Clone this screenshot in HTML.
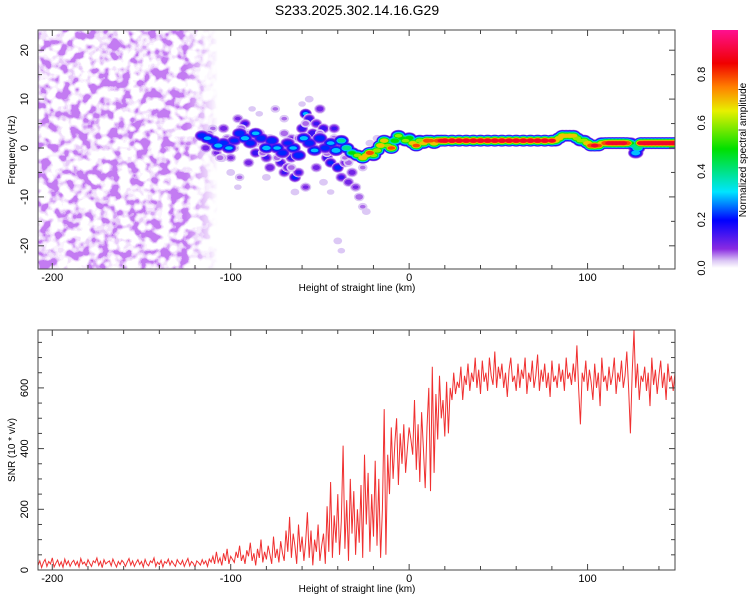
<!DOCTYPE html>
<html><head><meta charset="utf-8">
<style>
body{margin:0;background:#fff;}
svg{display:block;font-family:"Liberation Sans",sans-serif;}
</style></head>
<body>
<svg id="chart" width="750" height="600" viewBox="0 0 750 600">
<defs>
  <filter id="noise" x="0" y="0" width="100%" height="100%">
    <feTurbulence type="fractalNoise" baseFrequency="0.1" numOctaves="2" seed="11" result="t"/>
    <feColorMatrix in="t" type="matrix" values="0 0 0 0 0.5  0 0 0 0 0.15  0 0 0 0 0.88  3.4 0 0 0 -1.25" result="c"/>
    <feComponentTransfer in="c"><feFuncA type="discrete" tableValues="0 0.08 0.2 0.35 0.6 0.9"/></feComponentTransfer>
  </filter>
  <linearGradient id="fadeGrad" x1="0" x2="1" y1="0" y2="0">
    <stop offset="0" stop-color="#fff"/><stop offset="0.82" stop-color="#fff"/><stop offset="1" stop-color="#000"/>
  </linearGradient>
  <mask id="fadeMask"><rect x="38" y="30" width="180" height="240" fill="url(#fadeGrad)"/></mask>
  <linearGradient id="cbar" x1="0" y1="1" x2="0" y2="0">
    <stop offset="0" stop-color="#ffffff"/>
    <stop offset="0.03" stop-color="#dcc8f5"/>
    <stop offset="0.08" stop-color="#8a2be2"/>
    <stop offset="0.2" stop-color="#0000ff"/>
    <stop offset="0.32" stop-color="#00e5ff"/>
    <stop offset="0.5" stop-color="#00e000"/>
    <stop offset="0.66" stop-color="#e8f000"/>
    <stop offset="0.76" stop-color="#ff8000"/>
    <stop offset="0.86" stop-color="#f00000"/>
    <stop offset="1" stop-color="#ff1090"/>
  </linearGradient>
  <clipPath id="topClip"><rect x="38" y="30" width="637" height="239"/></clipPath>
  <clipPath id="botClip"><rect x="38" y="330" width="637" height="240"/></clipPath>
</defs>
<text x="357" y="15" font-size="14" text-anchor="middle">S233.2025.302.14.16.G29</text>
<g id="topG" clip-path="url(#topClip)"></g>
<g id="botG" clip-path="url(#botClip)"></g>
<g id="axesG"></g>
</svg>
<script>
// ---- data ----
const ridgeH = [-116,-113,-110,-107,-104,-101,-98,-95,-92,-89,-86,-83,-80,-77,-74,-71,-68,-65,-62,-59,-56,-53,-50,-47,-44,-41,-38,-35,-32,-29,-26,-24,-22,-20,-18,-16,-14,-12,-10,-8,-6,-4,-2,0,2,4,6,8,10,12,14,16,18,20,24,28,32,36,40,44,48,52,56,60,64,68,72,76,80,82,84,86,88,90,92,94,96,98,100,102,104,106,108,110,112,114,116,118,120,122,124,126,127,128,130,132,134,136,138,140,142,144,146,148];
const ridgeF = [2.5,2,1.5,0.5,1,0,1.5,3,2,1,3,2,0,1.5,0,-1,1,0,-1.5,2,1,-0.5,2,0,1,-0.5,1.5,0,-1,-1.5,-2,-1.5,-1,-1.5,-0.5,0.5,1.5,0.5,0,1.5,2.5,2,1.5,2,1,0.5,1.5,1,1.5,1.5,1,1.5,1.5,1.5,1.5,1.5,1.5,1.5,1.5,1.5,1.5,1.5,1.5,1.5,1.5,1.5,1.5,1.5,1.5,1.5,2,2.5,2.5,2.5,2.5,2,1.5,1.5,1,0.5,0.5,0.5,1,1,1,1,1,1,1,1,1,0.5,-1,0,1,1,1,1,1,1,1,1,1,1,1];
const ridgeA = [0.25,0.3,0.28,0.32,0.25,0.3,0.22,0.28,0.32,0.25,0.3,0.26,0.33,0.28,0.3,0.25,0.22,0.3,0.28,0.32,0.26,0.3,0.28,0.25,0.3,0.35,0.4,0.45,0.5,0.6,0.75,0.7,0.85,0.6,0.65,0.75,0.7,0.6,0.8,0.55,0.6,0.5,0.6,0.55,0.7,0.8,0.65,0.7,0.85,0.8,0.75,0.85,0.9,0.95,0.95,0.95,0.95,0.95,0.95,0.95,0.95,0.95,0.95,0.95,0.95,0.95,0.95,0.95,0.9,0.7,0.72,0.75,0.7,0.72,0.7,0.65,0.6,0.65,0.75,0.85,0.9,0.8,0.7,0.85,0.9,0.92,0.92,0.9,0.92,0.85,0.5,0.4,0.35,0.45,0.9,0.95,0.95,0.95,0.95,0.95,0.95,0.95,0.95,0.95,0.95];
const blobH = [-114,-108,-104,-100,-96,-92,-90,-86,-84,-80,-78,-76,-72,-70,-68,-66,-64,-62,-60,-58,-56,-54,-52,-50,-48,-46,-44,-42,-40,-38,-36,-34,-32,-30,-28,-26,-24,-40,-38,-70,-75,-66,-58,-52,-95,-88,-105,-110,
 -112,-106,-102,-98,-94,-90,-86,-82,-78,-74,-70,-66,-62,-58,-54,-50,-46,-42,-38,-34,-30,-26,-22,-18,-14,-10,-100,-96,-80,-84,-88,-64,-60,-48,-44,-56,-36];
const blobF = [0,-1,4,-2,6,5,-3,-1,3,-2,-4,1,-3,-5,-4,-2,-6,-5,4,7,6,3,5,8,4,-2,-3,4,-4,-6,-3,-7,-5,-8,-10,-12,-13,-19,-21,6,8,2,-8,-4,-6,2,-2,4,
 3,-2,2,0,4,3,1,-1,2,-2,3,-4,2,5,1,3,-1,2,0,-3,-2,-4,1,2,1,2,-5,-8,-6,7,8,-9,9,-7,-9,10,-2];
const blobA = [0.12,0.1,0.12,0.1,0.1,0.15,0.12,0.18,0.12,0.15,0.14,0.12,0.16,0.15,0.14,0.18,0.22,0.15,0.2,0.3,0.18,0.2,0.15,0.12,0.18,0.2,0.22,0.15,0.25,0.15,0.12,0.12,0.12,0.1,0.08,0.06,0.05,0.05,0.04,0.06,0.06,0.1,0.1,0.12,0.06,0.08,0.08,0.06,
 0.07,0.07,0.08,0.07,0.08,0.07,0.08,0.07,0.08,0.07,0.08,0.07,0.08,0.07,0.08,0.07,0.08,0.07,0.08,0.07,0.06,0.06,0.05,0.05,0.05,0.04,0.05,0.04,0.05,0.04,0.04,0.05,0.04,0.05,0.04,0.05,0.06];
const snr = [
 15,30,8,25,35,12,28,20,40,10, 22,33,14,27,9,36,18,30,12,25, 32,16,28,10,38,20,26,14,34,22,
 12,30,24,40,15,28,8,34,20,26, 30,14,36,22,10,28,18,32,25,12, 26,38,16,30,12,24,34,18,28,10,
 35,20,14,30,24,40,12,26,18,32, 10,28,22,36,16,30,20,12,34,24, 18,32,12,26,38,14,28,22,10,30,
 24,16,34,20,30,12,36,26,45,20, 60,25,40,15,55,30,70,20,45,35, 25,60,40,80,30,50,20,65,45,90,
 30,55,15,70,40,100,25,60,35,80, 50,20,110,40,70,25,95,55,30,130, 60,175,40,120,80,20,150,60,110,30,
 90,190,40,130,15,100,60,150,30,80, 120,20,210,60,290,40,180,90,250,50, 160,410,70,230,30,300,120,260,50,200,
 90,280,40,380,150,320,60,250,110,360, 80,300,40,200,530,50,380,250,470,300, 420,500,280,450,350,480,320,400,470,430,
 380,560,330,480,290,520,400,270,470,600, 260,670,320,580,430,640,500,560,440,620, 450,600,560,650,580,620,600,670,560,640,
 610,680,590,650,620,700,600,660,580,690, 620,650,590,700,640,610,720,600,670,630, 680,600,650,570,660,700,620,640,590,680,
 600,660,630,700,580,650,620,690,600,640, 710,590,660,620,680,600,650,570,690,620, 640,600,680,620,660,590,700,630,650,610,
 680,620,740,600,480,650,620,690,590,660, 620,560,680,600,650,540,700,620,640,590, 670,610,640,700,580,650,620,690,600,640,
 720,600,450,650,790,600,680,560,640,620, 670,590,650,540,700,610,660,580,640,690, 600,650,560,680,620,640,590,650];
const snrStart = -208, snrStep = 1;
const xTicks = [-200,-100,0,100];
const fTicks = [-20,-10,0,10,20];
const sTicks = [0,200,400,600];
const cTicks = [0.0,0.2,0.4,0.6,0.8];

// ---- scales ----
const X = h => 38 + (h + 208) * (637/357);
const F = f => 148 - f * 4.89;
const S = v => 570 - v * 0.3035;
const C = a => 268 - a * 242;
const NS = "http://www.w3.org/2000/svg";
function mk(tag, attrs, parent){const e=document.createElementNS(NS,tag);for(const k in attrs)e.setAttribute(k,attrs[k]);parent.appendChild(e);return e;}
const stops=[[0,[255,255,255]],[0.03,[220,200,245]],[0.08,[138,43,226]],[0.2,[0,0,255]],[0.32,[0,229,255]],[0.5,[0,224,0]],[0.66,[232,240,0]],[0.76,[255,128,0]],[0.86,[240,0,0]],[1,[255,16,144]]];
function cmap(a){for(let i=1;i<stops.length;i++){if(a<=stops[i][0]){const[t0,c0]=stops[i-1],[t1,c1]=stops[i];const u=(a-t0)/(t1-t0);return `rgb(${c0.map((v,j)=>Math.round(v+(c1[j]-v)*u)).join(',')})`;}}return 'rgb(255,16,144)';}

const topG=document.getElementById('topG'), botG=document.getElementById('botG'), axesG=document.getElementById('axesG');
// noise field on the left
const nz=mk('rect',{x:38,y:30,width:180,height:240,filter:'url(#noise)',mask:'url(#fadeMask)'},topG);


// scatter blobs
const levels=[0.03,0.06,0.1,0.15,0.22,0.3,0.4,0.5,0.6,0.7,0.8,0.9];
blobH.forEach((h,i)=>{const A=blobA[i];if(A===undefined||blobF[i]===undefined)return;levels.filter(L=>L<=A).forEach(L=>{const r=1.8+4*(A-L)/A;
  const e=mk('ellipse',{cx:X(h),cy:F(blobF[i]),rx:r+1,ry:r,fill:cmap(L)},topG);
  
  });});
// ridge
levels.forEach(L=>{ridgeH.forEach((h,i)=>{const A=ridgeA[i];if(A===undefined||ridgeF[i]===undefined||L>A)return;const ry=1.8+4.5*(A-L)/A;
  const e=mk('ellipse',{cx:X(h),cy:F(ridgeF[i]),rx:ry+2,ry:ry,fill:cmap(L)},topG);
  
  });});
// snr line
const pts=snr.map((v,i)=>`${X(snrStart+i*snrStep).toFixed(1)},${S(v).toFixed(1)}`).join(' ');
const ln=mk('polyline',{points:pts,fill:'none',stroke:'#f03030','stroke-width':1},botG);



// axes frames
[[30,269],[330,570]].forEach(([y0,y1],k)=>{
  const r=mk('rect',{x:38,y:y0,width:637,height:y1-y0,fill:'none',stroke:'#444','stroke-width':1},axesG);
  
  
  for(let h=-200;h<=140;h+=20){const x=X(h),len=(h%100===0)?6:4;
    mk('line',{x1:x,x2:x,y1:y0,y2:y0+len,stroke:'#444'},axesG);mk('line',{x1:x,x2:x,y1:y1,y2:y1-len,stroke:'#444'},axesG);}
  xTicks.forEach(h=>{const t=mk('text',{x:X(h),y:y1+12,'font-size':11,'text-anchor':'middle'},axesG);t.textContent=h;
    
    });
  const xl=mk('text',{x:357,y:y1+22,'font-size':10,'text-anchor':'middle'},axesG);xl.textContent='Height of straight line (km)';
  
  
});
for(let f=-20;f<=20;f+=5){const y=F(f),len=f%10===0?6:4;mk('line',{x1:38,x2:38+len,y1:y,y2:y,stroke:'#444'},axesG);mk('line',{x1:675,x2:675-len,y1:y,y2:y,stroke:'#444'},axesG);}
fTicks.forEach(f=>{const y=F(f);const t=mk('text',{x:28,y:y,'font-size':11,'text-anchor':'middle',transform:`rotate(-90 28 ${y})`},axesG);t.textContent=f;
  
  });
for(let v=0;v<=750;v+=50){const y=S(v),len=v%200===0?6:4;mk('line',{x1:38,x2:38+len,y1:y,y2:y,stroke:'#444'},axesG);mk('line',{x1:675,x2:675-len,y1:y,y2:y,stroke:'#444'},axesG);}
sTicks.forEach(v=>{const y=S(v);const t=mk('text',{x:28,y:y,'font-size':11,'text-anchor':'middle',transform:`rotate(-90 28 ${y})`},axesG);t.textContent=v;
  
  });
const fy=mk('text',{x:15,y:150,'font-size':10,'text-anchor':'middle',transform:'rotate(-90 15 150)'},axesG);fy.textContent='Frequency (Hz)';


const sy=mk('text',{x:15,y:450,'font-size':10,'text-anchor':'middle',transform:'rotate(-90 15 450)'},axesG);sy.textContent='SNR (10 * v/v)';


// colorbar
const cb=mk('rect',{x:712,y:30,width:26,height:238,fill:'url(#cbar)'},axesG);


cTicks.forEach(a=>{const y=C(a);const t=mk('text',{x:705,y:y,'font-size':11,'text-anchor':'middle',transform:`rotate(-90 705 ${y})`},axesG);t.textContent=a.toFixed(1);
  
  });
const ct=mk('text',{x:746,y:150,'font-size':10,'text-anchor':'middle',transform:'rotate(-90 746 150)'},axesG);ct.textContent='Normalized spectral amplitude';


</script>
</body></html>
